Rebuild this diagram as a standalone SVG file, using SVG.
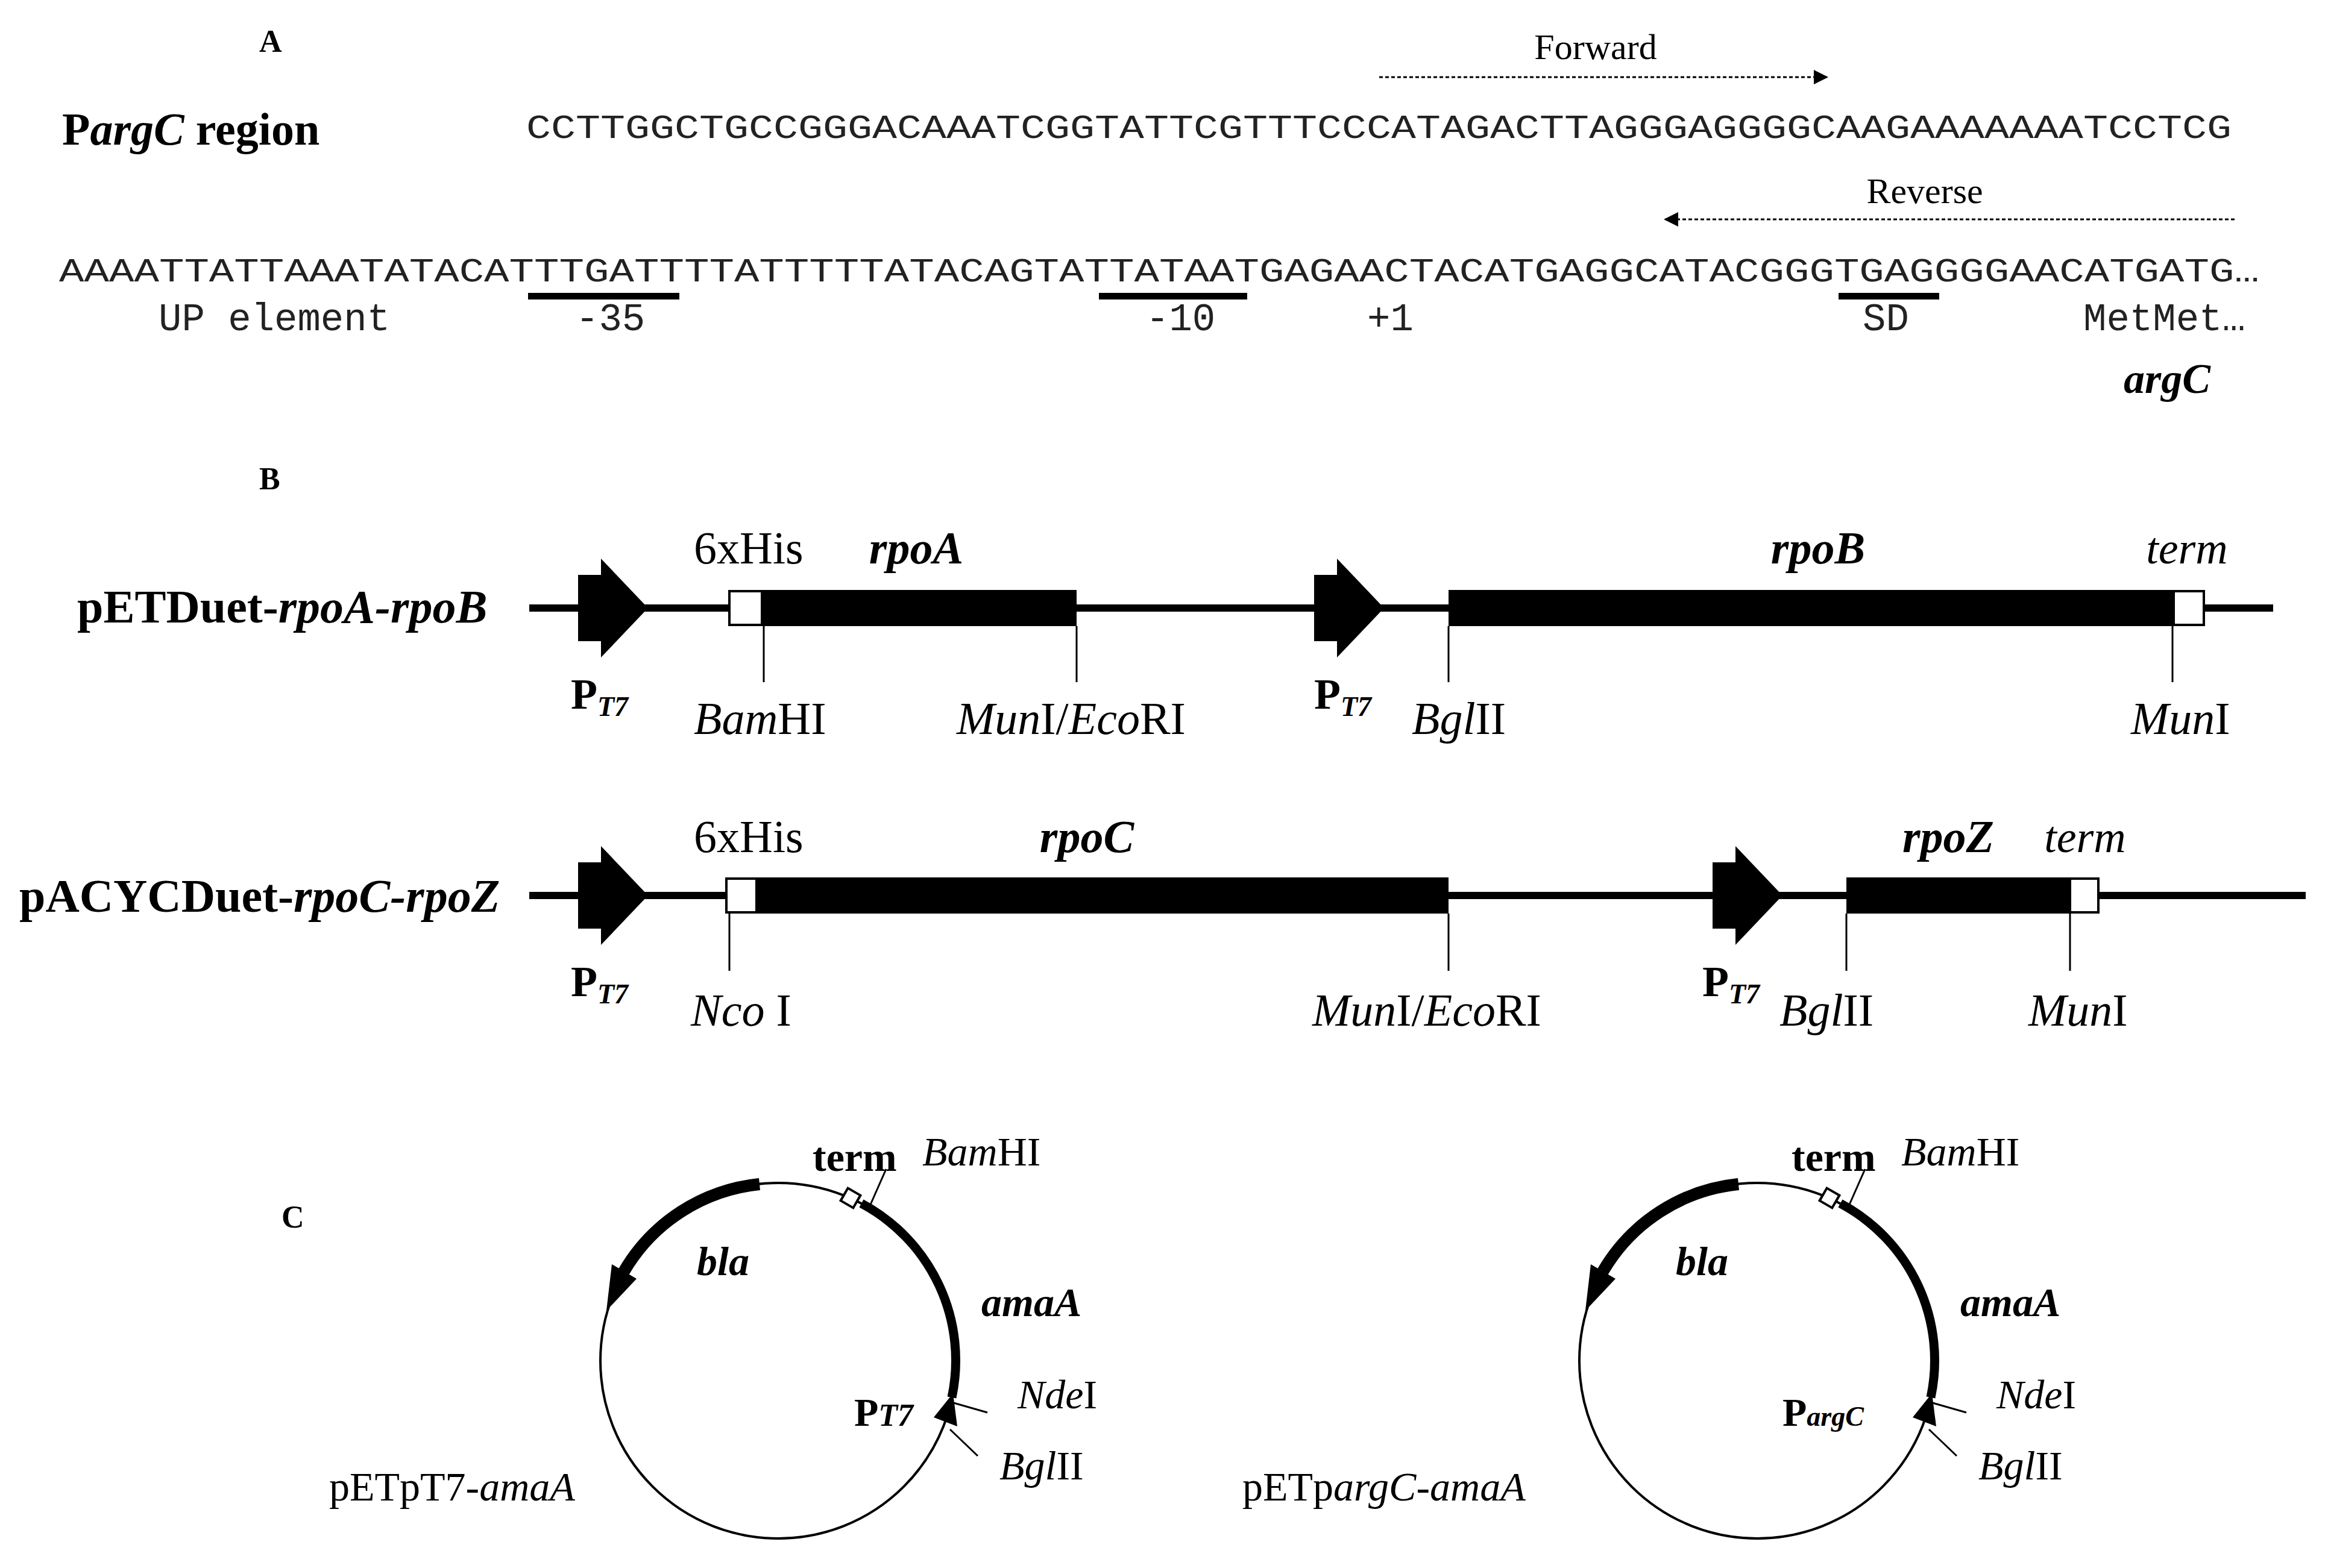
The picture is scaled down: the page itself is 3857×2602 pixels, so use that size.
<svg xmlns="http://www.w3.org/2000/svg" width="3857" height="2602" viewBox="0 0 3857 2602">
<style>
.s{font-family:"Liberation Serif",serif;fill:#000}
.m{font-family:"Liberation Mono",monospace;fill:#222}
.b{font-weight:bold}.i{font-style:italic}
.ln{stroke:#000;stroke-width:12;fill:none}
.tk{stroke:#000;stroke-width:3}
.wb{fill:#fff;stroke:#000;stroke-width:4}
</style>
<defs>
<marker id="ah" markerWidth="8" markerHeight="8" refX="7" refY="4" orient="auto" markerUnits="strokeWidth"><path d="M0,0 L8,4 L0,8 z" fill="#000"/></marker>
<symbol id="pro" overflow="visible"><path d="M0,-55 H38 V-82 L116,0 L38,82 V55 H0 z" fill="#000"/></symbol>
</defs>
<g id="panelA">
<text class="s b" x="430" y="86" font-size="52">A</text>
<text class="s b" x="103" y="240" font-size="76">P<tspan class="i">argC</tspan> region</text>
<text class="m" x="873" y="229" font-size="56" textLength="2829" lengthAdjust="spacingAndGlyphs">CCTTGGCTGCCGGGACAAATCGGTATTCGTTTCCCATAGACTTAGGGAGGGGCAAGAAAAAAATCCTCG</text>
<text class="m" x="98" y="467" font-size="56" textLength="3650" lengthAdjust="spacingAndGlyphs">AAAATTATTAAATATACATTTGATTTTATTTTTATACAGTATTATAATGAGAACTACATGAGGCATACGGGTGAGGGGAACATGATG…</text>
<rect x="876" y="486" width="251" height="11" fill="#000"/>
<rect x="1823" y="486" width="246" height="11" fill="#000"/>
<rect x="3050" y="486" width="167" height="11" fill="#000"/>
<g class="m" font-size="64">
<text x="263" y="548">UP element</text>
<text x="955" y="548">-35</text>
<text x="1901" y="548">-10</text>
<text x="2268" y="548">+1</text>
<text x="3090" y="548">SD</text>
<text x="3456" y="548">MetMet…</text>
</g>
<text class="s b i" x="3523" y="652" font-size="70">argC</text>
</g>
<g id="primers">
<text class="s" x="2647" y="98" font-size="60" text-anchor="middle">Forward</text>
<line x1="2288" y1="128" x2="3030" y2="128" stroke="#000" stroke-width="3" stroke-dasharray="6,4" marker-end="url(#ah)"/>
<text class="s" x="3193" y="337" font-size="60" text-anchor="middle">Reverse</text>
<line x1="3707" y1="364" x2="2763" y2="364" stroke="#000" stroke-width="3" stroke-dasharray="6,4" marker-end="url(#ah)"/>
</g>
<g id="panelB">
<text class="s b" x="430" y="812" font-size="52">B</text>
</g>
<g id="construct1">
<text class="s b" x="128" y="1033" font-size="78">pETDuet-<tspan class="i">rpoA-rpoB</tspan></text>
<line class="ln" x1="878" y1="1009" x2="3771" y2="1009"/>
<use href="#pro" x="959" y="1009"/>
<use href="#pro" x="2180" y="1009"/>
<rect x="1264" y="979" width="522" height="60" fill="#000"/>
<rect x="2403" y="979" width="1203" height="60" fill="#000"/>
<rect class="wb" x="1210" y="981" width="54" height="56"/>
<rect class="wb" x="3606" y="981" width="50" height="56"/>
<line class="tk" x1="1267" y1="1039" x2="1267" y2="1132"/>
<line class="tk" x1="1786" y1="1039" x2="1786" y2="1132"/>
<line class="tk" x1="2403" y1="1039" x2="2403" y2="1132"/>
<line class="tk" x1="3604" y1="1039" x2="3604" y2="1132"/>
<text class="s" x="1151" y="935" font-size="76">6xHis</text>
<text class="s b i" x="1520" y="935" font-size="76" text-anchor="middle">rpoA</text>
<text class="s b i" x="3016" y="935" font-size="76" text-anchor="middle">rpoB</text>
<text class="s i" x="3628" y="935" font-size="74" text-anchor="middle">term</text>
<text class="s b" x="947" y="1176" font-size="72">P<tspan class="i" font-size="46" dy="12">T7</tspan></text>
<text class="s b" x="2180" y="1176" font-size="72">P<tspan class="i" font-size="46" dy="12">T7</tspan></text>
<text class="s" x="1151" y="1218" font-size="76"><tspan class="i">Bam</tspan>HI</text>
<text class="s" x="1587" y="1218" font-size="76"><tspan class="i">Mun</tspan>I/<tspan class="i">Eco</tspan>RI</text>
<text class="s" x="2342" y="1218" font-size="76"><tspan class="i">Bgl</tspan>II</text>
<text class="s" x="3535" y="1218" font-size="76"><tspan class="i">Mun</tspan>I</text>
</g>
<g id="construct2">
<text class="s b" x="32" y="1513" font-size="78">pACYCDuet-<tspan class="i">rpoC-rpoZ</tspan></text>
<line class="ln" x1="878" y1="1486" x2="3825" y2="1486"/>
<use href="#pro" x="959" y="1486"/>
<use href="#pro" x="2841" y="1486"/>
<rect x="1255" y="1456" width="1148" height="60" fill="#000"/>
<rect x="3063" y="1456" width="371" height="60" fill="#000"/>
<rect class="wb" x="1205" y="1458" width="50" height="56"/>
<rect class="wb" x="3434" y="1458" width="47" height="56"/>
<line class="tk" x1="1210" y1="1516" x2="1210" y2="1611"/>
<line class="tk" x1="2403" y1="1516" x2="2403" y2="1611"/>
<line class="tk" x1="3063" y1="1516" x2="3063" y2="1611"/>
<line class="tk" x1="3434" y1="1516" x2="3434" y2="1611"/>
<text class="s" x="1151" y="1414" font-size="76">6xHis</text>
<text class="s b i" x="1803" y="1414" font-size="76" text-anchor="middle">rpoC</text>
<text class="s b i" x="3232" y="1414" font-size="76" text-anchor="middle">rpoZ</text>
<text class="s i" x="3459" y="1414" font-size="74" text-anchor="middle">term</text>
<text class="s b" x="947" y="1653" font-size="72">P<tspan class="i" font-size="46" dy="12">T7</tspan></text>
<text class="s b" x="2824" y="1653" font-size="72">P<tspan class="i" font-size="46" dy="12">T7</tspan></text>
<text class="s" x="1146" y="1702" font-size="76"><tspan class="i">Nco</tspan> I</text>
<text class="s" x="2177" y="1702" font-size="76"><tspan class="i">Mun</tspan>I/<tspan class="i">Eco</tspan>RI</text>
<text class="s" x="2952" y="1702" font-size="76"><tspan class="i">Bgl</tspan>II</text>
<text class="s" x="3365" y="1702" font-size="76"><tspan class="i">Mun</tspan>I</text>
</g>
<g id="panelC">
<text class="s b" x="467" y="2037" font-size="52">C</text>
</g>
<g id="plasmid1">
<circle cx="1291" cy="2258" r="295" fill="none" stroke="#000" stroke-width="4"/>
<path d="M1260,1965 A295,295 0 0 0 1035,2110" fill="none" stroke="#000" stroke-width="20"/>
<path d="M1056,2122 L1015,2098 L1006,2175 z" fill="#000"/>
<path d="M1429,1997 A295,295 0 0 1 1579,2319" fill="none" stroke="#000" stroke-width="15"/>
<rect x="1399" y="1976" width="24" height="24" transform="rotate(30 1411 1988)" class="wb" stroke-width="3"/>
<line class="tk" x1="1440" y1="2008" x2="1470" y2="1940"/>
<path d="M1581,2312 L1549,2352 L1588,2367 z" fill="#000"/>
<line class="tk" x1="1582" y1="2328" x2="1638" y2="2344"/>
<line class="tk" x1="1576" y1="2372" x2="1622" y2="2416"/>
<text class="s b" x="1348" y="1943" font-size="68">term</text>
<text class="s" x="1530" y="1934" font-size="68"><tspan class="i">Bam</tspan>HI</text>
<text class="s b i" x="1156" y="2116" font-size="68">bla</text>
<text class="s b i" x="1628" y="2184" font-size="68">amaA</text>
<text class="s" x="1688" y="2337" font-size="68"><tspan class="i">Nde</tspan>I</text>
<text class="s b" x="1417" y="2366" font-size="66">P<tspan class="i" font-size="52">T7</tspan></text>
<text class="s" x="1658" y="2455" font-size="68"><tspan class="i">Bgl</tspan>II</text>
<text class="s" x="546" y="2490" font-size="68">pETpT7-<tspan class="i">amaA</tspan></text>
</g>
<g id="plasmid2">
<circle cx="2915" cy="2258" r="295" fill="none" stroke="#000" stroke-width="4"/>
<path d="M2884,1965 A295,295 0 0 0 2659,2110" fill="none" stroke="#000" stroke-width="20"/>
<path d="M2680,2122 L2639,2098 L2630,2175 z" fill="#000"/>
<path d="M3053,1997 A295,295 0 0 1 3203,2319" fill="none" stroke="#000" stroke-width="15"/>
<rect x="3023" y="1976" width="24" height="24" transform="rotate(30 3035 1988)" class="wb" stroke-width="3"/>
<line class="tk" x1="3064" y1="2008" x2="3094" y2="1940"/>
<path d="M3205,2312 L3173,2352 L3212,2367 z" fill="#000"/>
<line class="tk" x1="3206" y1="2328" x2="3262" y2="2344"/>
<line class="tk" x1="3200" y1="2372" x2="3246" y2="2416"/>
<text class="s b" x="2972" y="1943" font-size="68">term</text>
<text class="s" x="3154" y="1934" font-size="68"><tspan class="i">Bam</tspan>HI</text>
<text class="s b i" x="2780" y="2116" font-size="68">bla</text>
<text class="s b i" x="3252" y="2184" font-size="68">amaA</text>
<text class="s" x="3312" y="2337" font-size="68"><tspan class="i">Nde</tspan>I</text>
<text class="s b" x="2957" y="2366" font-size="66">P<tspan class="i" font-size="46">argC</tspan></text>
<text class="s" x="3282" y="2455" font-size="68"><tspan class="i">Bgl</tspan>II</text>
<text class="s" x="2061" y="2490" font-size="68">pETp<tspan class="i">argC</tspan>-<tspan class="i">amaA</tspan></text>
</g>
</svg>
